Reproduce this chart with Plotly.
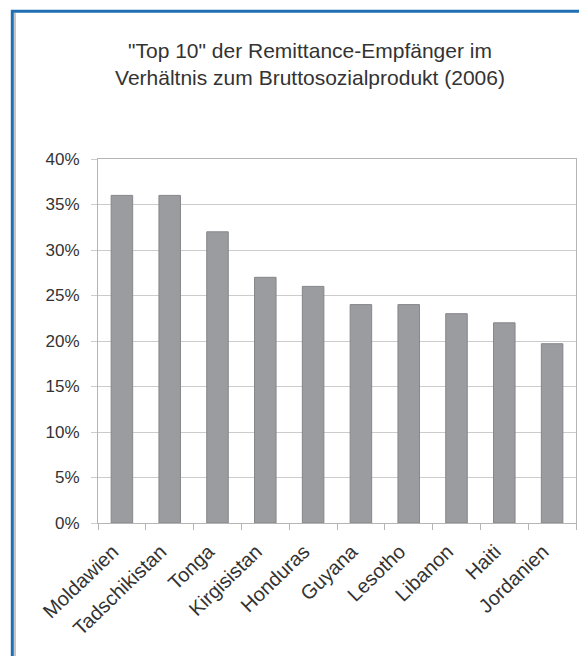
import plotly.graph_objects as go

countries = ["Moldawien", "Tadschikistan", "Tonga", "Kirgisistan", "Honduras",
             "Guyana", "Lesotho", "Libanon", "Haiti", "Jordanien"]
values = [36, 36, 32, 27, 26, 24, 24, 23, 22, 19.7]
y_ticks = [0, 5, 10, 15, 20, 25, 30, 35, 40]
y_tick_labels = ["0%", "5%", "10%", "15%", "20%", "25%", "30%", "35%", "40%"]
title_lines = ["\"Top 10\" der Remittance-Empfänger im",
               "Verhältnis zum Bruttosozialprodukt (2006)"]

W, H = 579, 656
L, R, T, B = 98, 3, 159, 133
pw, ph = W - L - R, H - T - B


def px_x(px):
    return (px - L) / pw


def px_y(py):
    return (H - B - py) / ph


fig = go.Figure()
fig.add_trace(go.Bar(
    x=countries, y=values,
    marker=dict(color="#9b9ca0", line=dict(color="#85868a", width=1)),
    hoverinfo="skip",
))

fig.update_layout(
    width=W, height=H,
    margin=dict(l=L, r=R, t=T, b=B, pad=0),
    paper_bgcolor="white", plot_bgcolor="white",
    font=dict(family="Liberation Sans, Arial, sans-serif", color="#333333"),
    bargap=0.55,
    showlegend=False,
    title=dict(text="<br>".join(title_lines), x=310 / W, xanchor="center",
               xref="container", yref="container", y=1 - 58 / H, yanchor="middle",
               font=dict(size=21, color="#333333")),
    xaxis=dict(showgrid=False, ticks="outside", tickson="boundaries", ticklen=6,
               tickcolor="#b5b5b5", showline=True, linecolor="#b5b5b5", linewidth=1,
               mirror=True, tickangle=-44, ticklabelstandoff=8, ticklabelshift=-9,
               tickfont=dict(size=20, color="#333333")),
    yaxis=dict(range=[0, 40], tickmode="array", tickvals=y_ticks, ticktext=y_tick_labels,
               showgrid=True,
               gridcolor="#cccccc", gridwidth=1, ticks="outside", ticklen=6,
               tickcolor="#cccccc", showline=True, linecolor="#b5b5b5", linewidth=1,
               mirror=True, zeroline=False, ticklabelstandoff=8,
               tickfont=dict(size=17, color="#333333")),
)

# decorative frame (blue border top/left, grey inner stripe)
fig.add_shape(type="line", xref="paper", yref="paper",
              x0=px_x(11), x1=px_x(600), y0=px_y(11.3), y1=px_y(11.3),
              line=dict(color="#1f6fb2", width=3))
fig.add_shape(type="line", xref="paper", yref="paper",
              x0=px_x(12.3), x1=px_x(12.3), y0=px_y(10), y1=px_y(700),
              line=dict(color="#1f6fb2", width=3))
fig.add_shape(type="line", xref="paper", yref="paper",
              x0=px_x(15), x1=px_x(15), y0=px_y(13), y1=px_y(700),
              line=dict(color="#c3c7cc", width=2))

fig.write_html("out.html", config={"displayModeBar": False},
               post_script="document.body.style.margin='0';")
